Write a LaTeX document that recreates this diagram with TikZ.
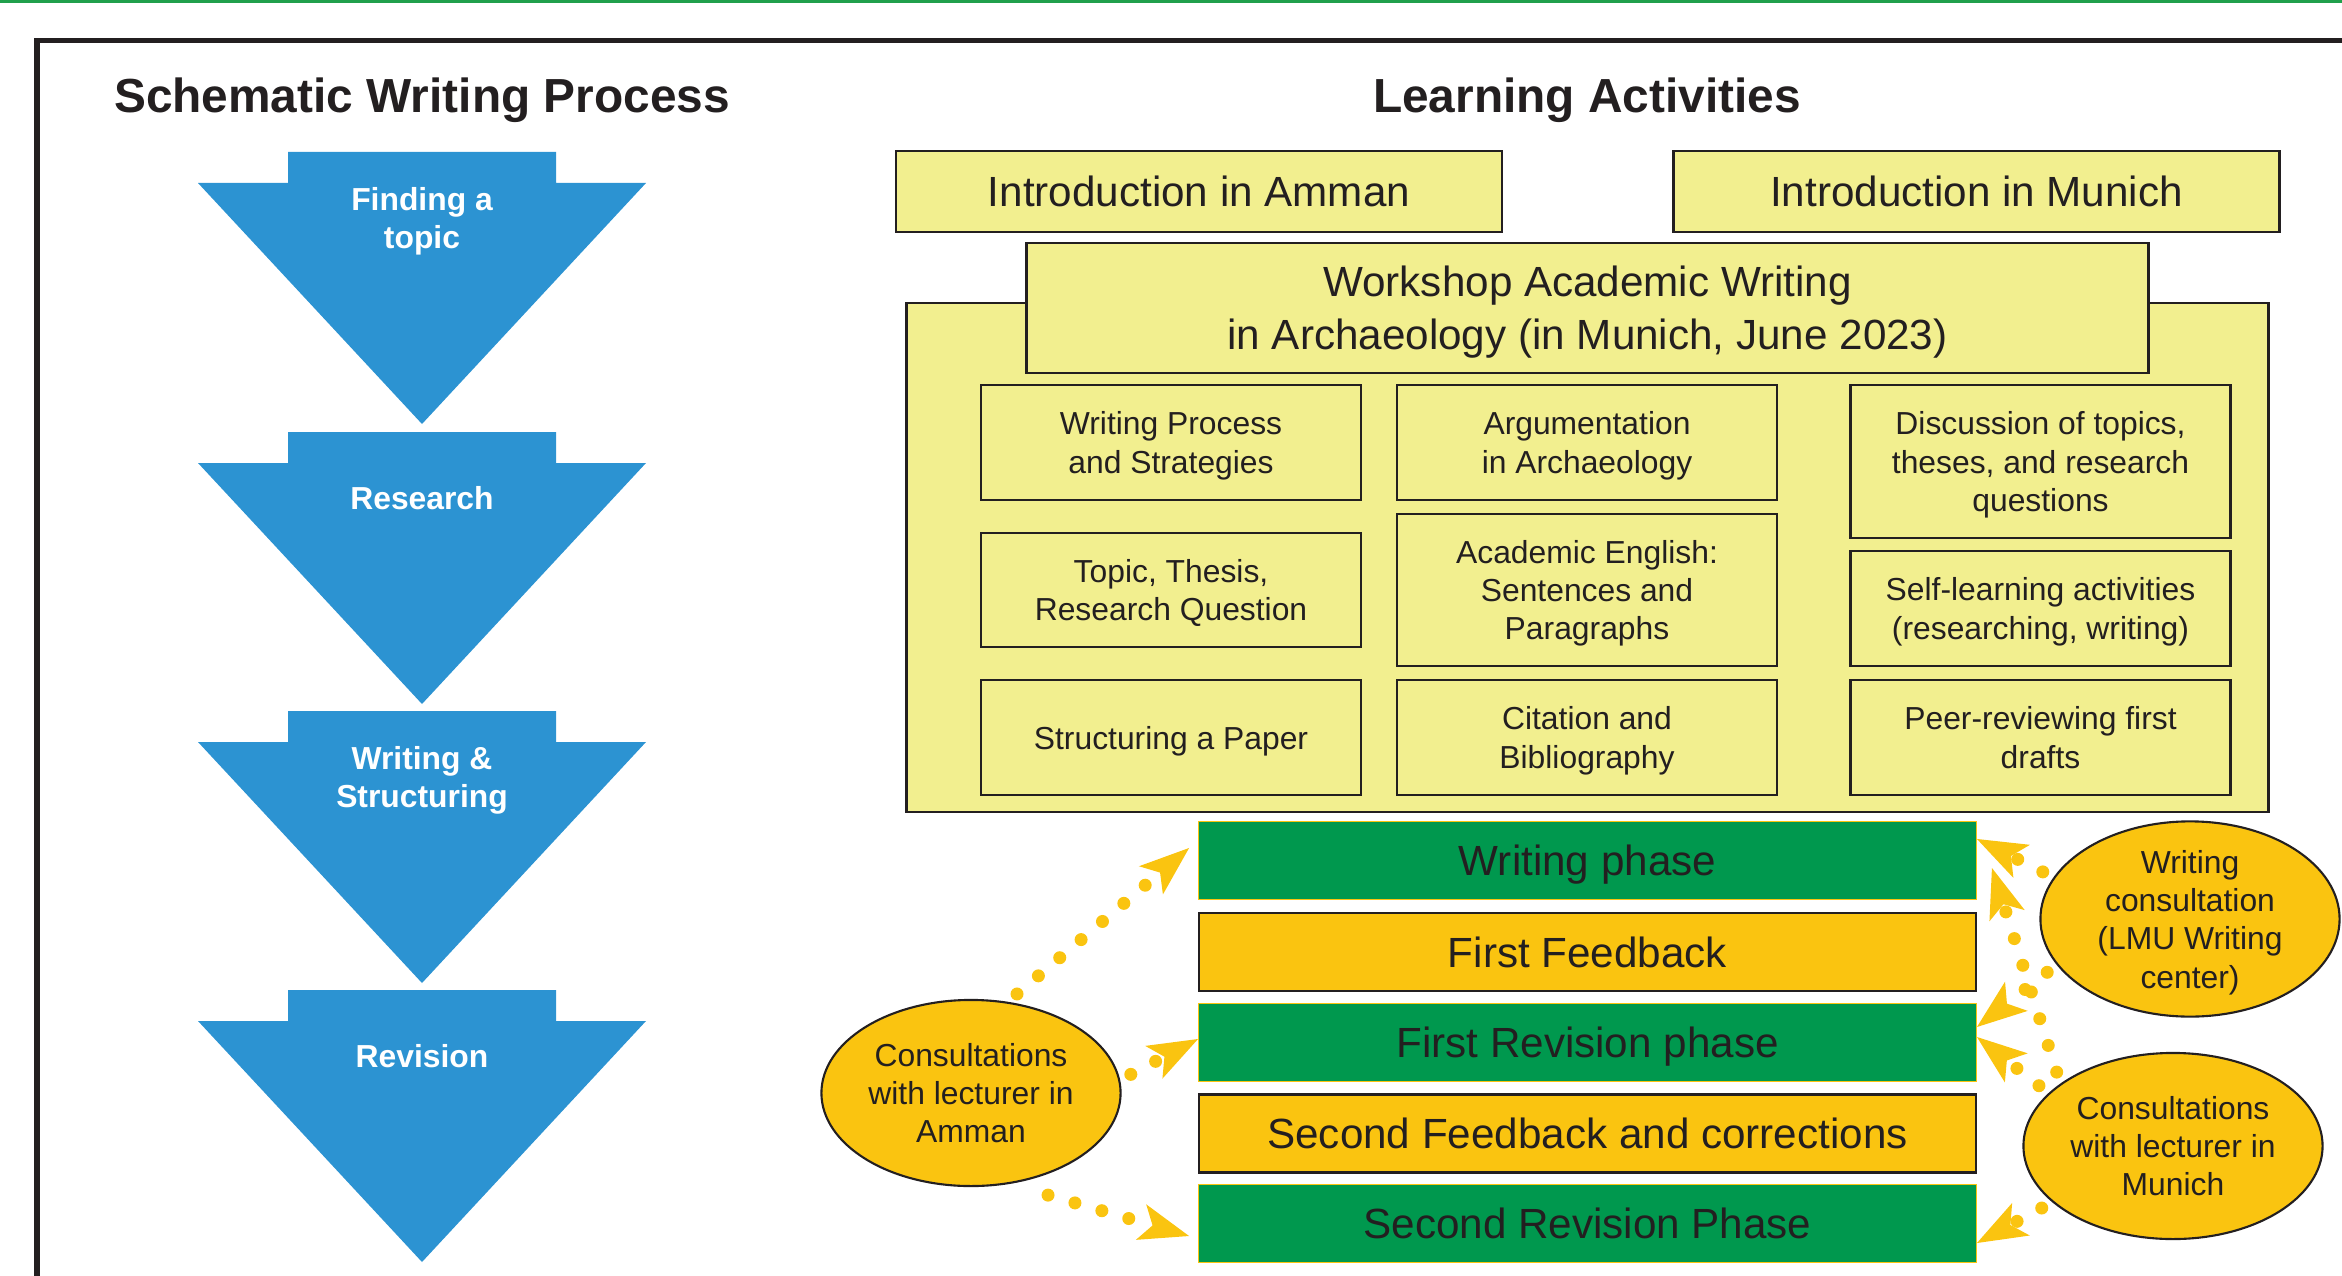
\documentclass[tikz,border=0pt]{standalone}
\usepackage{fontspec}
\setmainfont{Liberation Sans}
\usetikzlibrary{arrows.meta,shapes.geometric}

\definecolor{procblue}{RGB}{44,147,210}
\definecolor{phasegreen}{RGB}{0,152,78}
\definecolor{phaseorange}{RGB}{250,196,16}
\definecolor{actyellow}{RGB}{242,239,143}
\definecolor{inkgray}{RGB}{35,31,32}
\definecolor{rulegreen}{RGB}{32,160,76}

\newcommand{\fntTitle}{\fontsize{13.6}{16}\selectfont\bfseries}
\newcommand{\fntBox}{\fontsize{12}{15}\selectfont}
\newcommand{\fntSmall}{\fontsize{9.05}{10.9}\selectfont}

\begin{document}
\begin{tikzpicture}[x=0.01cm,y=-0.01cm,
    every node/.style={text=inkgray,text depth=0pt},
    heading/.style={font=\fntTitle,anchor=base},
    steplabel/.style={text=white,font=\fntSmall\bfseries,align=center},
    actbox/.style={shape=rectangle,draw=inkgray,line width=0.7pt,fill=actyellow,align=center,inner sep=0pt,font=\fntSmall},
    introbox/.style={actbox,font=\fntBox,minimum width=6.06cm,minimum height=0.81cm},
    topicbox/.style={actbox,minimum width=3.8cm},
    greenbar/.style={shape=rectangle,draw=phaseorange,line width=0.4pt,fill=phasegreen,font=\fntBox,minimum width=7.77cm,minimum height=0.78cm,inner sep=0pt},
    orangebar/.style={greenbar,draw=inkgray,line width=0.6pt,fill=phaseorange},
    consult/.style={shape=ellipse,draw=inkgray,line width=0.6pt,fill=phaseorange,font=\fntSmall,align=center,minimum width=2.99cm,minimum height=1.86cm,inner sep=0pt},
    dotarrow/.style={draw=phaseorange,line width=0.13cm,line cap=round,dash pattern=on 0pt off 0.28cm,shorten <=0.12cm,-{Stealth[length=0.5cm,width=0.37cm,inset=0.12cm,line width=0pt]}}
  ]
        \useasboundingbox (0,0) rectangle (2342,1276);
        \fill[rulegreen] (0,0) rectangle (2342,3);
        \draw[inkgray,line width=0.05cm] (37,1276) -- (37,41) -- (2342,41);

        \node[heading] (proctitle) at (422,113) {Schematic Writing Process};
        \node[heading] (acttitle) at (1587,113) {Learning Activities};

        \foreach \top/\name/\txt in {152/find/{Finding a\\topic},432/research/{Research},711/write/{Writing \&\\Structuring},990/revise/{Revision}}{
            \fill[procblue] (288,\top) -- (556,\top) -- (556,\top+31) -- (646,\top+31) -- (422,\top+272) -- (198,\top+31) -- (288,\top+31) -- cycle;
            \node[steplabel] (\name) at (422,\top+66) {\txt};
        }

        \node[introbox] (introamman) at (1199,191.5) {Introduction in Amman};
        \node[introbox] (intromunich) at (1976.5,191.5) {Introduction in Munich};
        \node[actbox,minimum width=13.61cm,minimum height=5.09cm] (workshoparea) at (1587.5,557.5) {};
        \node[actbox,font=\fntBox,minimum width=11.21cm,minimum height=1.3cm] (workshop) at (1587.5,308) {Workshop Academic Writing\\in Archaeology (in Munich, June 2023)};

        \node[topicbox,minimum height=1.15cm] (process) at (1171,442.5) {Writing Process\\and Strategies};
        \node[topicbox,minimum height=1.14cm] (thesis) at (1171,590) {Topic, Thesis,\\Research Question};
        \node[topicbox,minimum height=1.15cm] (structure) at (1171,737.5) {Structuring a Paper};
        \node[topicbox,minimum height=1.15cm] (argument) at (1587,442.5) {Argumentation\\in Archaeology};
        \node[topicbox,minimum height=1.52cm] (english) at (1587,590) {Academic English:\\Sentences and\\Paragraphs};
        \node[topicbox,minimum height=1.15cm] (citation) at (1587,737.5) {Citation and\\Bibliography};
        \node[topicbox,minimum height=1.53cm] (discussion) at (2040.5,461.5) {Discussion of topics,\\theses, and research\\questions};
        \node[topicbox,minimum height=1.15cm] (selflearn) at (2040.5,608.5) {Self-learning activities\\(researching, writing)};
        \node[topicbox,minimum height=1.15cm] (peerreview) at (2040.5,737.5) {Peer-reviewing first\\drafts};

        \node[greenbar] (wphase) at (1587.5,860.5) {Writing phase};
        \node[orangebar] (ffeed) at (1587.5,952) {First Feedback};
        \node[greenbar] (frev) at (1587.5,1042.5) {First Revision phase};
        \node[orangebar] (sfeed) at (1587.5,1133.5) {Second Feedback and corrections};
        \node[greenbar] (srev) at (1587.5,1223.5) {Second Revision Phase};

        \node[consult] (amman) at (971,1093) {Consultations\\with lecturer in\\Amman};
        \node[consult] (wcons) at (2190,919) {Writing\\consultation\\(LMU Writing\\center)};
        \node[consult] (munich) at (2173,1146) {Consultations\\with lecturer in\\Munich};

        \path
        (amman.68) edge[dotarrow] ([xshift=-0.09cm,yshift=0.125cm]wphase.west)
        (amman.5) edge[dotarrow] ([yshift=0.035cm]frev.west)
        (amman.-67) edge[dotarrow,shorten <=0.4cm] ([xshift=-0.09cm,yshift=-0.125cm]srev.west)
        (wcons.163) edge[dotarrow] ([yshift=0.215cm]wphase.east)
        (wcons.199) edge[dotarrow] ([yshift=0.155cm]frev.east)
        (munich.151) edge[dotarrow] ([xshift=0.15cm,yshift=-0.075cm]wphase.east)
        (munich.157) edge[dotarrow] ([yshift=0.055cm]frev.east)
        (munich.205) edge[dotarrow] ([yshift=-0.195cm]srev.east)
        ;
\end{tikzpicture}
\end{document}
